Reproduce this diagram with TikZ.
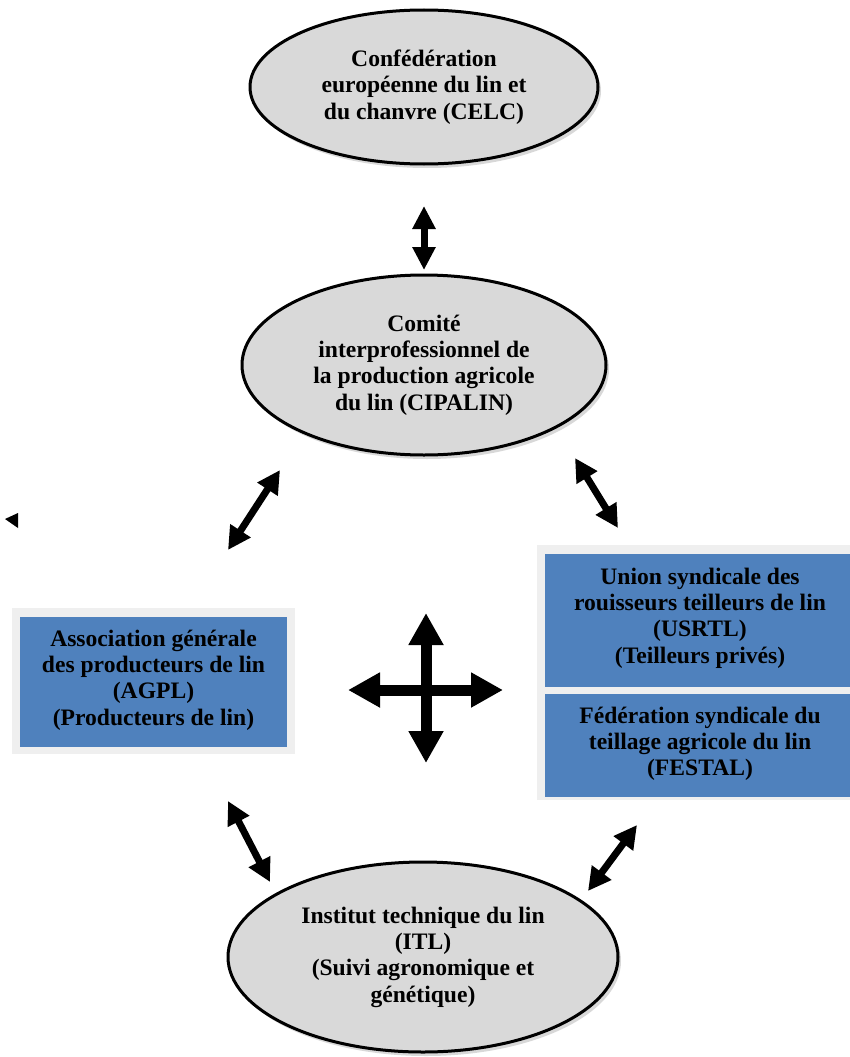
\documentclass[tikz,border=0pt]{standalone}
\usepackage{fontspec}
\setmainfont{Liberation Serif}
\usetikzlibrary{arrows.meta,shadows,shapes.geometric}
\definecolor{ovalgray}{HTML}{D9D9D9}
\definecolor{boxblue}{HTML}{4F81BD}
\definecolor{framegray}{HTML}{EFEFEF}
\begin{document}
\begin{tikzpicture}[x=1pt,y=-1pt,
  oval/.style={ellipse, draw=black, line width=3pt, fill=ovalgray,
    drop shadow={shadow xshift=3pt, shadow yshift=-4pt, fill=black!30},
    inner sep=0pt, align=center, font=\fontsize{23.6}{26.3}\selectfont\bfseries},
  lbl/.style={align=center, font=\fontsize{23.6}{26.3}\selectfont\bfseries},
  bluebox/.style={rectangle, fill=boxblue, draw=none, inner sep=0pt, anchor=north west},
  framebox/.style={rectangle, fill=framegray, draw=none, inner sep=0pt, anchor=north west},
  dblarrow/.style={line width=7pt, {Triangle[length=23pt,width=23pt]}-{Triangle[length=23pt,width=23pt]}},
  vertarrow/.style={line width=7pt, {Triangle[length=23pt,width=22pt]}-{Triangle[length=23pt,width=22pt]}},
  crossarrow/.style={line width=11pt, -{Triangle[length=32pt,width=33pt]}}
]
\useasboundingbox (0,0) rectangle (850,1057);

% ellipses
\node[oval, minimum width=348pt, minimum height=154pt] (celc) at (424,87)
  {Confédération\\européenne du lin et\\du chanvre (CELC)};
\node[oval, minimum width=364pt, minimum height=180pt] (cipalin) at (424,365)
  {Comité\\interprofessionnel de\\la production agricole\\du lin (CIPALIN)};
\node[oval, minimum width=390pt, minimum height=190pt] (itl) at (423,957)
  {Institut technique du lin\\(ITL)\\(Suivi agronomique et\\génétique)};

% left box
\node[framebox, minimum width=283pt, minimum height=146pt] (agplframe) at (12,608) {};
\node[bluebox, minimum width=267pt, minimum height=130pt] (agplbox) at (20,617) {};
\node[lbl] (agpl) at (153.5,680)
  {Association générale\\des producteurs de lin\\(AGPL)\\(Producteurs de lin)};

% right boxes
\node[framebox, minimum width=320pt, minimum height=255pt] (rightframe) at (537,545) {};
\node[bluebox, minimum width=312pt, minimum height=133pt] (usrtlbox) at (545,554) {};
\node[bluebox, minimum width=312pt, minimum height=103pt] (festalbox) at (545,694) {};
\node[lbl] (usrtl) at (700,618)
  {Union syndicale des\\rouisseurs teilleurs de lin\\(USRTL)\\(Teilleurs privés)};
\node[lbl] (festal) at (700,744)
  {Fédération syndicale du\\teillage agricole du lin\\(FESTAL)};

% connector end points
\coordinate (a1) at (424,206);
\coordinate (a2) at (424,270);
\coordinate (b1) at (280,470);
\coordinate (b2) at (228,550);
\coordinate (c1) at (575,458);
\coordinate (c2) at (618,528);
\coordinate (d1) at (228,801);
\coordinate (d2) at (270,882);
\coordinate (e1) at (637,825);
\coordinate (e2) at (588,891);
\coordinate (cc) at (426,690);
\coordinate (ct) at (426,613);
\coordinate (cb) at (426,763);
\coordinate (cl) at (348,690);
\coordinate (cr) at (503,690);

\draw[vertarrow] (a1) -- (a2);
\draw[dblarrow] (b1) -- (b2);
\draw[dblarrow] (c1) -- (c2);
\draw[dblarrow] (d1) -- (d2);
\draw[dblarrow] (e1) -- (e2);

\draw[crossarrow] (cc) -- (ct);
\draw[crossarrow] (cc) -- (cb);
\draw[crossarrow] (cc) -- (cl);
\draw[crossarrow] (cc) -- (cr);

% stray arrowhead
\fill[black] (5,519) -- (18,513) -- (18,528) -- cycle;
\end{tikzpicture}
\end{document}
